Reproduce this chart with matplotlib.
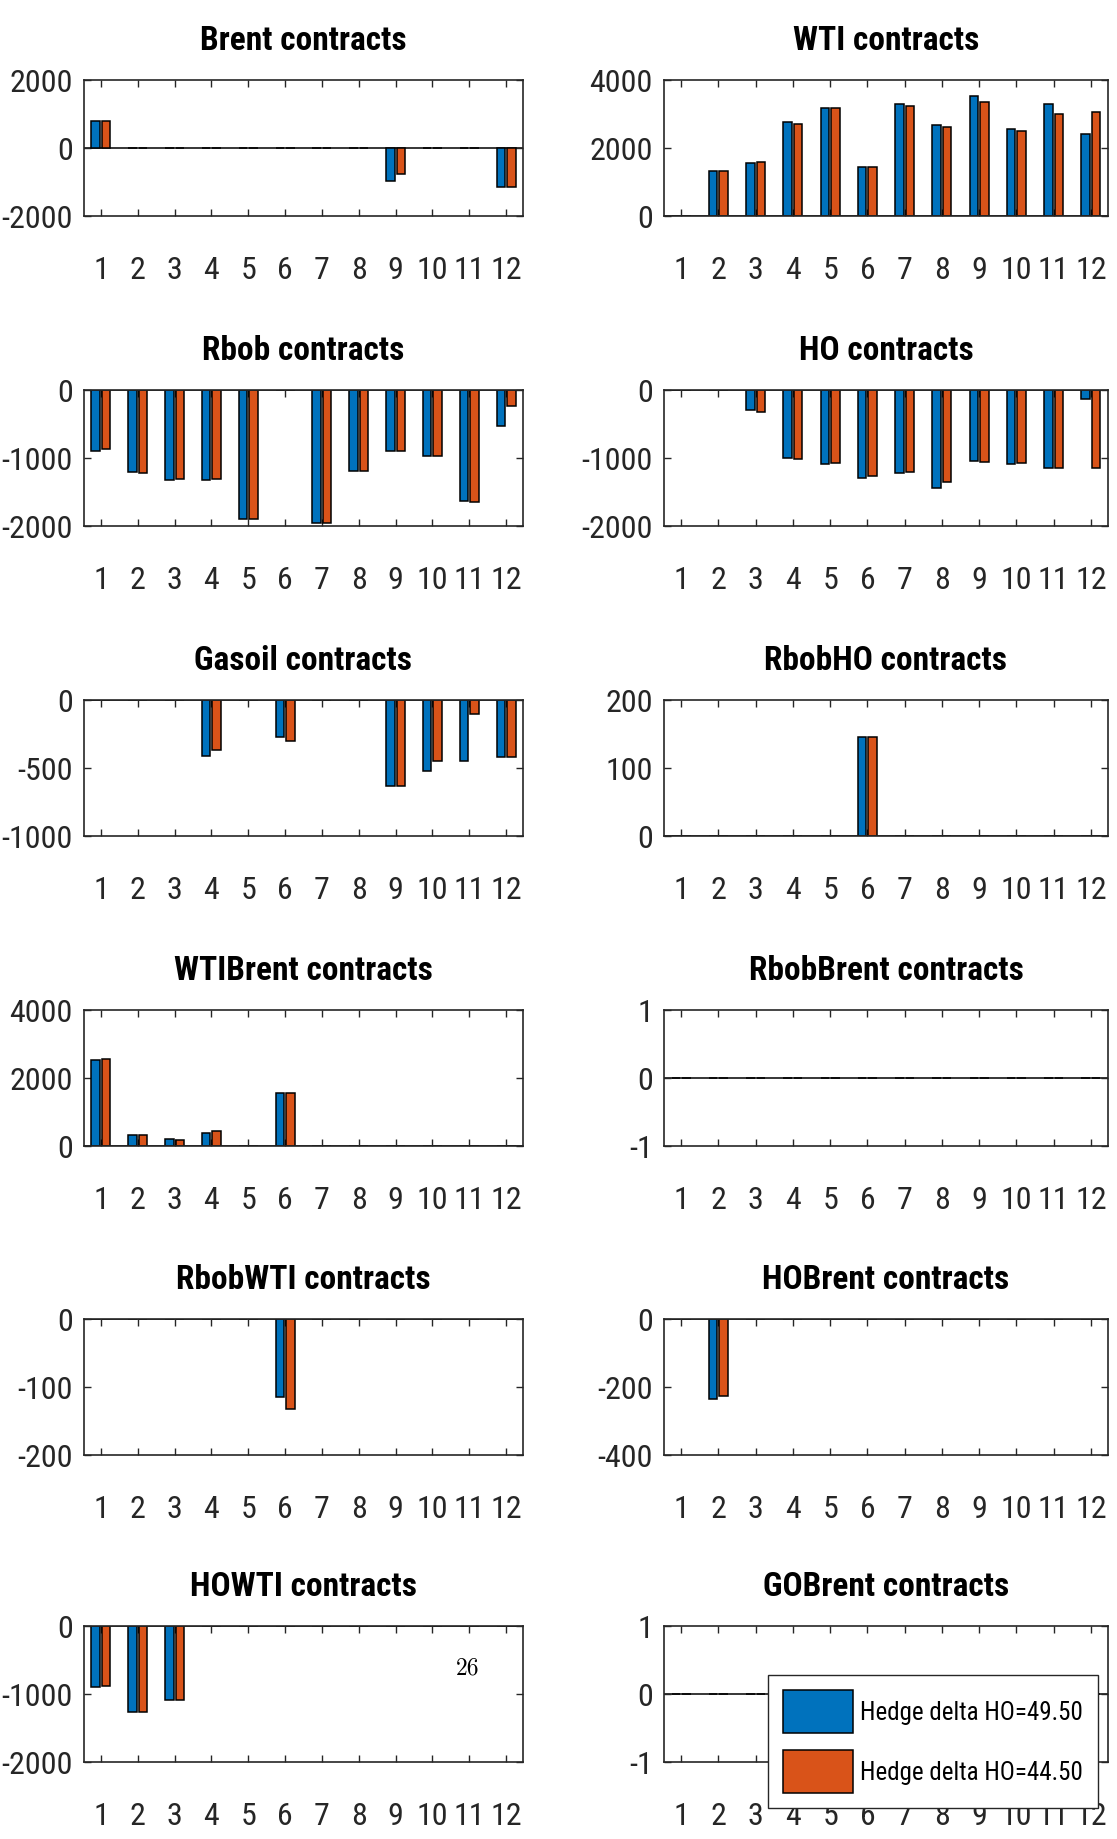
import os
import numpy as np
import matplotlib
matplotlib.use("Agg")
import matplotlib.pyplot as plt
from matplotlib import font_manager as fm

plt.rcParams['axes.unicode_minus'] = False

months = np.arange(1, 13)
hedge_labels = ['Hedge delta HO=49.50', 'Hedge delta HO=44.50']

# contracts per month, first series = delta 49.50, second = delta 44.50
brent_a = [780, 0, 0, 0, 0, 0, 0, 0, -960, 0, 0, -1140]
brent_b = [780, 0, 0, 0, 0, 0, 0, 0, -760, 0, 0, -1140]
wti_a = [0, 1310, 1560, 2760, 3180, 1430, 3290, 2690, 3520, 2550, 3280, 2410]
wti_b = [0, 1310, 1580, 2720, 3170, 1430, 3250, 2630, 3350, 2490, 3000, 3050]
rbob_a = [-890, -1200, -1330, -1330, -1890, 0, -1960, -1190, -900, -970, -1630, -530]
rbob_b = [-870, -1220, -1310, -1310, -1900, 0, -1960, -1190, -900, -970, -1640, -240]
ho_a = [0, 0, -290, -1000, -1090, -1300, -1220, -1440, -1050, -1090, -1140, -130]
ho_b = [0, 0, -320, -1010, -1080, -1260, -1200, -1360, -1060, -1080, -1140, -1140]
gasoil_a = [0, 0, 0, -410, 0, -270, 0, 0, -630, -520, -450, -420]
gasoil_b = [0, 0, 0, -370, 0, -300, 0, 0, -630, -450, -100, -420]
rbobho_a = [0, 0, 0, 0, 0, 145, 0, 0, 0, 0, 0, 0]
rbobho_b = [0, 0, 0, 0, 0, 145, 0, 0, 0, 0, 0, 0]
wtibrent_a = [2530, 320, 200, 370, 0, 1560, 0, 0, 0, 0, 0, 0]
wtibrent_b = [2560, 320, 170, 440, 0, 1560, 0, 0, 0, 0, 0, 0]
rbobbrent_a = [0] * 12
rbobbrent_b = [0] * 12
rbobwti_a = [0, 0, 0, 0, 0, -115, 0, 0, 0, 0, 0, 0]
rbobwti_b = [0, 0, 0, 0, 0, -133, 0, 0, 0, 0, 0, 0]
hobrent_a = [0, -236, 0, 0, 0, 0, 0, 0, 0, 0, 0, 0]
hobrent_b = [0, -225, 0, 0, 0, 0, 0, 0, 0, 0, 0, 0]
howti_a = [-900, -1270, -1090, 0, 0, 0, 0, 0, 0, 0, 0, 0]
howti_b = [-880, -1270, -1090, 0, 0, 0, 0, 0, 0, 0, 0, 0]
gobrent_a = [0] * 12
gobrent_b = [0] * 12

panels = [
    ('Brent', brent_a, brent_b, [-2000, 0, 2000]),
    ('WTI', wti_a, wti_b, [0, 2000, 4000]),
    ('Rbob', rbob_a, rbob_b, [-2000, -1000, 0]),
    ('HO', ho_a, ho_b, [-2000, -1000, 0]),
    ('Gasoil', gasoil_a, gasoil_b, [-1000, -500, 0]),
    ('RbobHO', rbobho_a, rbobho_b, [0, 100, 200]),
    ('WTIBrent', wtibrent_a, wtibrent_b, [0, 2000, 4000]),
    ('RbobBrent', rbobbrent_a, rbobbrent_b, [-1, 0, 1]),
    ('RbobWTI', rbobwti_a, rbobwti_b, [-200, -100, 0]),
    ('HOBrent', hobrent_a, hobrent_b, [-400, -200, 0]),
    ('HOWTI', howti_a, howti_b, [-2000, -1000, 0]),
    ('GOBrent', gobrent_a, gobrent_b, [-1, 0, 1]),
]

BLUE = '#0072BD'
ORANGE = '#D95319'
AXC = '#262626'


def find_narrow(bold):
    """Look for a narrow/condensed sans face on the system."""
    prefs = ['liberationsansnarrow', 'robotocondensed', 'notosans-condensed',
             'dejavusanscondensed', 'opensanscondensed', 'condensed', 'narrow']
    hits = []
    for f in fm.fontManager.ttflist:
        fn = os.path.basename(f.fname).lower()
        if not ('narrow' in fn or 'condensed' in fn):
            continue
        if any(s in fn for s in ('extra', 'semi', 'ultra', 'italic', 'oblique', 'light',
                                 'thin', 'medium', 'black', 'semibold')):
            continue
        if ('bold' in fn) != bold:
            continue
        for rank, p in enumerate(prefs):
            if p in fn.replace(' ', '').replace('_', ''):
                hits.append((rank, f.fname))
                break
    hits.sort()
    return hits[0][1] if hits else None


reg_path = find_narrow(False)
bold_path = find_narrow(True)
narrow = reg_path is not None and bold_path is not None

if narrow:
    fp_tick = fm.FontProperties(fname=reg_path, size=23)
    fp_title = fm.FontProperties(fname=bold_path, size=24)
    fp_leg = fm.FontProperties(fname=reg_path, size=18)
else:
    fp_tick = fm.FontProperties(family='Liberation Sans', size=19)
    fp_title = fm.FontProperties(family='Liberation Sans', weight='bold', size=20)
    fp_leg = fm.FontProperties(family='Liberation Sans', size=15)

W, H = 1117, 1840
fig = plt.figure(figsize=(W / 100, H / 100), dpi=100, facecolor='white')

col_x = [(84, 523), (664, 1108)]
row_top = [81, 391, 701, 1011, 1320, 1627]
ax_h = 136

bw = 0.2286
off = 0.143

axes = []
for k, (name, a, b, yt) in enumerate(panels):
    r, c = divmod(k, 2)
    x0, x1 = col_x[c]
    top = row_top[r]
    ax = fig.add_axes([x0 / W, 1 - (top + ax_h) / H, (x1 - x0) / W, ax_h / H])
    ax.axhline(0, color=AXC, lw=1.3, zorder=1)
    ax.bar(months - off, a, bw, color=BLUE, edgecolor='black', linewidth=1.1,
           label=hedge_labels[0], zorder=2)
    ax.bar(months + off, b, bw, color=ORANGE, edgecolor='black', linewidth=1.1,
           label=hedge_labels[1], zorder=2)
    ax.set_xlim(0.54, 12.46)
    ax.set_ylim(yt[0], yt[-1])
    ax.set_xticks(months)
    ax.set_yticks(yt)
    ax.set_yticklabels([str(v) for v in yt])
    ax.tick_params(axis='both', direction='in', length=5, width=1, colors=AXC,
                   top=True, right=True)
    ax.tick_params(axis='x', pad=28 if narrow else 30)
    ax.tick_params(axis='y', pad=8)
    for lbl in ax.get_xticklabels() + ax.get_yticklabels():
        lbl.set_fontproperties(fp_tick)
    for sp in ax.spines.values():
        sp.set_color(AXC)
        sp.set_linewidth(1.2)
    ax.set_title(f'{name} contracts', fontproperties=fp_title, pad=22)
    axes.append(ax)

leg = axes[-1].legend(loc='upper left', bbox_to_anchor=(0.234, 0.64), borderaxespad=0,
                      prop=fp_leg, frameon=True, fancybox=False, framealpha=1,
                      edgecolor=AXC, handlelength=2.8, handleheight=2.3,
                      handletextpad=0.3, borderpad=0.6, labelspacing=0.65)
leg.get_frame().set_linewidth(1.0)
leg.set_zorder(10)

fig.text(468 / W, 1 - 1668 / H, '26', family='cmr10', fontsize=17,
         ha='center', va='center')

fig.savefig('out.png', dpi=100, facecolor='white')
